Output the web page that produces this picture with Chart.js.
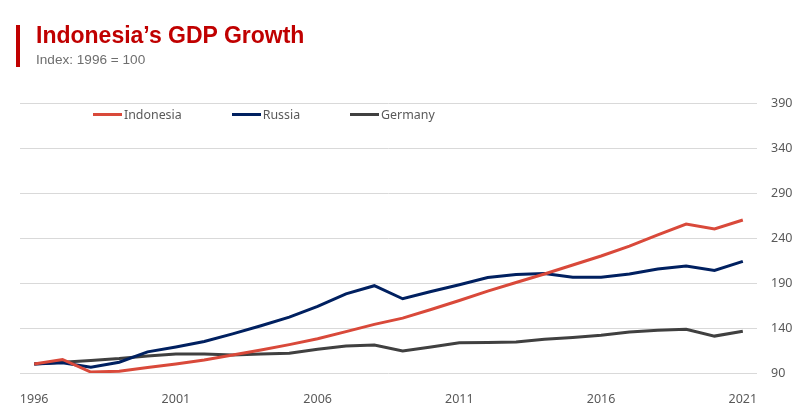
<!DOCTYPE html>
<html>
<head>
<meta charset="utf-8">
<script src="https://cdn.jsdelivr.net/npm/chart.js@4"></script>
<style>
  html, body { margin: 0; padding: 0; background: #fff; }
  #wrap { position: relative; width: 800px; height: 418px; overflow: hidden; }
  #chart { position: absolute; left: 0; top: 0; }
  #bar { position: absolute; left: 16px; top: 25px; width: 4px; height: 42px; background: #c00000; }
  #title { position: absolute; left: 36px; top: 22px; font: bold 23px "Liberation Sans", Arial, sans-serif; color: #c00000; }
  #subtitle { position: absolute; left: 36px; top: 52px; font: 13.6px "Liberation Sans", Arial, sans-serif; color: #6e6e6e; }
  #legend { position: absolute; left: 93px; top: 106px; display: flex; font: 12.4px "Noto Sans", sans-serif; color: #595959; }
  .item { display: flex; align-items: center; margin-right: 50px; }
  .swatch { width: 29px; height: 3px; margin-right: 2px; }
</style>
</head>
<body>
<div id="wrap">
  <canvas id="chart" width="800" height="418"></canvas>
  <div id="bar"></div>
  <div id="title">Indonesia’s GDP Growth</div>
  <div id="subtitle">Index: 1996 = 100</div>
  <div id="legend"></div>
</div>
<script>
const years = ['1996','1997','1998','1999','2000','2001','2002','2003','2004','2005','2006','2007','2008',
               '2009','2010','2011','2012','2013','2014','2015','2016','2017','2018','2019','2020','2021'];
const indonesia = [100, 105, 91, 92, 96, 100, 104.5, 110, 115.5, 121.5, 128, 136, 144, 151, 160.5, 170.5,
                   181, 190.5, 200, 210, 220, 231, 243.5, 255.5, 250, 260];
const russia = [100, 101.5, 96.5, 102, 113.5, 119, 125, 133.5, 142.5, 152, 164, 178, 187, 172.5, 180.5, 188,
                196, 199.5, 200.5, 196.5, 196.5, 200, 205.5, 209, 204, 214];
const germany = [100, 102, 104, 106, 109, 111, 111, 110, 111, 112, 116.5, 120, 121, 114.5, 119, 123.5,
                 124, 124.5, 127.5, 129.5, 132, 135.5, 137.5, 138.5, 131, 136.5];
const yTicks = [90, 140, 190, 240, 290, 340, 390];

const series = [
    { label: 'Indonesia', data: indonesia, color: '#d9493a' },
    { label: 'Russia', data: russia, color: '#002060' },
    { label: 'Germany', data: germany, color: '#404040' }
];

const tickFont = { family: 'Noto Sans', size: 12.5 };

function run() {
    const ctx = document.getElementById('chart');
    new Chart(ctx, {
        type: 'line',
        data: {
            labels: years,
            datasets: series.map(s => ({
                label: s.label,
                data: s.data,
                borderColor: s.color,
                backgroundColor: s.color,
                borderWidth: 3,
                pointRadius: 0,
                tension: 0
            }))
        },
        options: {
            responsive: false,
            animation: false,
            layout: { padding: { left: 20, top: 103, right: 0, bottom: 15 } },
            plugins: { legend: { display: false }, tooltip: { enabled: false } },
            scales: {
                x: {
                    offset: true,
                    grid: { display: false },
                    border: { display: false },
                    ticks: {
                        color: '#595959',
                        font: tickFont,
                        padding: 11,
                        maxRotation: 0,
                        autoSkip: false,
                        // only every fifth year is labelled
                        callback: function (val, i) { return i % 5 === 0 ? years[i] : ''; }
                    },
                    afterFit: s => { s.height = 30; }
                },
                y: {
                    position: 'right',
                    min: 90,
                    max: 390,
                    afterBuildTicks: s => { s.ticks = yTicks.map(v => ({ value: v })); },
                    grid: { color: '#d9d9d9', lineWidth: 1, drawTicks: false },
                    border: { display: false },
                    ticks: { color: '#595959', font: tickFont, padding: 14 },
                    afterFit: s => { s.width = 43; }
                }
            }
        }
    });

    // legend as plain html, it sits inside the plot area
    const legend = document.getElementById('legend');
    series.forEach(s => {
        const item = document.createElement('div');
        item.className = 'item';
        const sw = document.createElement('span');
        sw.className = 'swatch';
        sw.style.background = s.color;
        const txt = document.createElement('span');
        txt.textContent = s.label;
        item.appendChild(sw);
        item.appendChild(txt);
        legend.appendChild(item);
    });
}

document.addEventListener('DOMContentLoaded', run);
</script>
</body>
</html>
